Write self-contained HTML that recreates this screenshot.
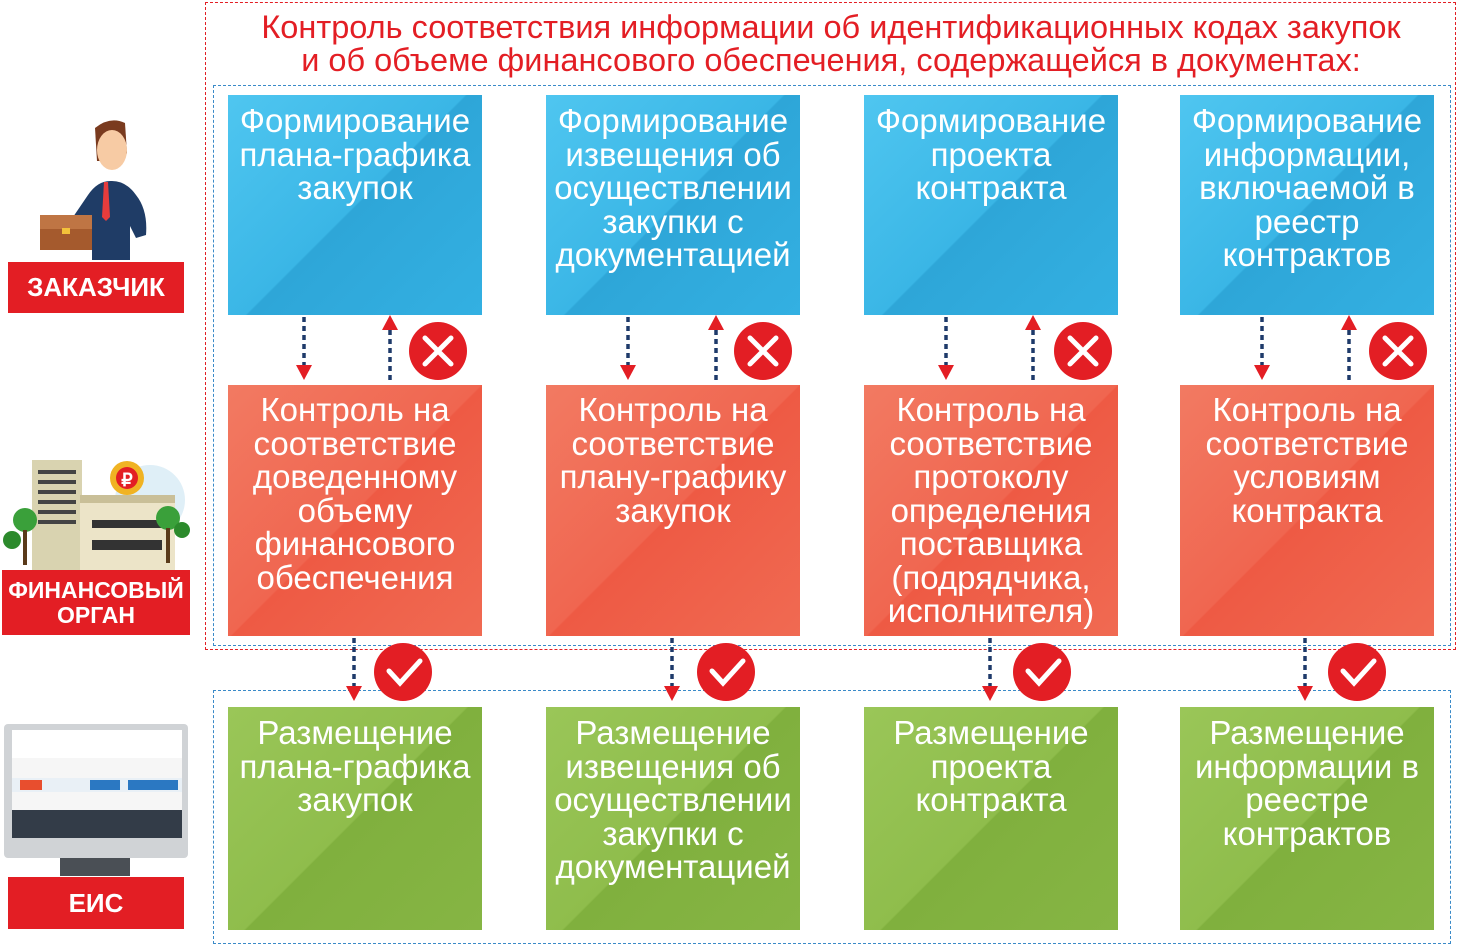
<!DOCTYPE html>
<html><head><meta charset="utf-8"><style>
body{margin:0;width:1458px;height:945px;background:#fff;position:relative;overflow:hidden;font-family:"Liberation Sans",sans-serif}
.a{position:absolute}
.box{position:absolute;width:254px;color:#fff;text-align:center;font-size:33px;line-height:33.5px;box-sizing:border-box;padding-top:9px;letter-spacing:0px;white-space:nowrap}
.b{top:95px;height:220px;background:linear-gradient(135deg,#4fc6f0 0%,#3ab6e6 50%,#2ea6d8 50.5%,#33b0e2 100%)}
.r{top:385px;height:251px;background:linear-gradient(135deg,#f27a62 0%,#f06650 50%,#ee5a44 50.5%,#f06a52 100%)}
.g{top:707px;height:223px;background:linear-gradient(135deg,#9ac658 0%,#8fbd4c 50%,#80b03e 50.5%,#86b544 100%)}
.lab{position:absolute;background:#e31e24;color:#fff;font-weight:bold;text-align:center;font-size:26px}
</style></head><body>
<div class="a" style="left:205px;top:2px;width:1249px;height:646px;border:1.5px dashed #e31e24"></div>
<div class="a" style="left:213px;top:85px;width:1236px;height:559px;border:1.5px dashed #3a8ac8"></div>
<div class="a" style="left:213px;top:690px;width:1236px;height:252px;border:1.5px dashed #3a8ac8"></div>
<div class="a" style="left:205px;top:11px;width:1252px;text-align:center;color:#e31e24;font-size:32.5px;line-height:33px;white-space:nowrap">Контроль соответствия информации об идентификационных кодах закупок<br>и об объеме финансового обеспечения, содержащейся в документах:</div>

<div class="box b" style="left:228px">Формирование<br>плана-графика<br>закупок</div>
<div class="box b" style="left:546px">Формирование<br>извещения об<br>осуществлении<br>закупки с<br>документацией</div>
<div class="box b" style="left:864px">Формирование<br>проекта<br>контракта</div>
<div class="box b" style="left:1180px">Формирование<br>информации,<br>включаемой в<br>реестр<br>контрактов</div>

<div class="box r" style="left:228px;padding-top:8px">Контроль на<br>соответствие<br>доведенному<br>объему<br>финансового<br>обеспечения</div>
<div class="box r" style="left:546px;padding-top:8px">Контроль на<br>соответствие<br>плану-графику<br>закупок</div>
<div class="box r" style="left:864px;padding-top:8px">Контроль на<br>соответствие<br>протоколу<br>определения<br>поставщика<br>(подрядчика,<br>исполнителя)</div>
<div class="box r" style="left:1180px;padding-top:8px">Контроль на<br>соответствие<br>условиям<br>контракта</div>

<div class="box g" style="left:228px">Размещение<br>плана-графика<br>закупок</div>
<div class="box g" style="left:546px">Размещение<br>извещения об<br>осуществлении<br>закупки с<br>документацией</div>
<div class="box g" style="left:864px">Размещение<br>проекта<br>контракта</div>
<div class="box g" style="left:1180px">Размещение<br>информации в<br>реестре<br>контрактов</div>

<svg class="a" style="left:0;top:0" width="1458" height="945">
<g stroke="#1e3a6a" stroke-width="3.5" stroke-dasharray="5,4">
<line x1="304" y1="317" x2="304" y2="366"/><line x1="390" y1="380" x2="390" y2="330"/>
<line x1="628" y1="317" x2="628" y2="366"/><line x1="716" y1="380" x2="716" y2="330"/>
<line x1="946" y1="317" x2="946" y2="366"/><line x1="1033" y1="380" x2="1033" y2="330"/>
<line x1="1262" y1="317" x2="1262" y2="366"/><line x1="1349" y1="380" x2="1349" y2="330"/>
<line x1="354" y1="638" x2="354" y2="688"/><line x1="672" y1="638" x2="672" y2="688"/>
<line x1="990" y1="638" x2="990" y2="688"/><line x1="1305" y1="638" x2="1305" y2="688"/>
</g>
<g fill="#e31e24">
<path d="M296 365h16l-8 15z"/><path d="M382 330h16l-8-15z"/>
<path d="M620 365h16l-8 15z"/><path d="M708 330h16l-8-15z"/>
<path d="M938 365h16l-8 15z"/><path d="M1025 330h16l-8-15z"/>
<path d="M1254 365h16l-8 15z"/><path d="M1341 330h16l-8-15z"/>
<path d="M346 686h16l-8 15z"/><path d="M664 686h16l-8 15z"/>
<path d="M982 686h16l-8 15z"/><path d="M1297 686h16l-8 15z"/>
<circle cx="438" cy="351" r="29"/><circle cx="763" cy="351" r="29"/><circle cx="1083" cy="351" r="29"/><circle cx="1398" cy="351" r="29"/>
<circle cx="403" cy="672" r="29"/><circle cx="726" cy="672" r="29"/><circle cx="1042" cy="672" r="29"/><circle cx="1357" cy="672" r="29"/>
</g>
<g stroke="#fff" stroke-width="5" stroke-linecap="round" fill="none">
<path d="M425 338l26 26M451 338l-26 26"/><path d="M750 338l26 26M776 338l-26 26"/>
<path d="M1070 338l26 26M1096 338l-26 26"/><path d="M1385 338l26 26M1411 338l-26 26"/>
<path d="M389 671l11 12 20-22"/><path d="M712 671l11 12 20-22"/><path d="M1028 671l11 12 20-22"/><path d="M1343 671l11 12 20-22"/>
</g>
<path d="M95 128q15-12 30-5l2 30-5 8h-25z" fill="#7a3b1f"/>
<ellipse cx="112" cy="150" rx="15" ry="20" fill="#f7cba4"/>
<path d="M88 195q10-15 24-14 14 0 24 14 12 15 10 40l-10 3-6-12v34h-38v-40l-15 8-6-8z" fill="#1f3c66"/>
<path d="M104 182l-2 35 4 4 4-4-2-35z" fill="#e63c3c"/>
<rect x="96" y="230" width="12" height="30" fill="#1f3c66"/><rect x="112" y="230" width="12" height="30" fill="#1f3c66"/>
<rect x="40" y="215" width="52" height="35" fill="#a55a2d"/><rect x="40" y="215" width="52" height="14" fill="#bf7544"/>
<rect x="62" y="228" width="8" height="6" fill="#f3c23a"/>
<circle cx="150" cy="500" r="35" fill="#dfeff7"/>
<rect x="32" y="460" width="50" height="110" fill="#d9d3b0"/>
<g fill="#444"><rect x="38" y="470" width="38" height="4"/><rect x="38" y="480" width="38" height="4"/><rect x="38" y="490" width="38" height="4"/><rect x="38" y="500" width="38" height="4"/><rect x="38" y="510" width="38" height="4"/><rect x="38" y="520" width="38" height="4"/></g>
<rect x="80" y="500" width="95" height="70" fill="#ece4c8"/>
<rect x="80" y="495" width="95" height="8" fill="#c9bf98"/>
<g fill="#333"><rect x="92" y="520" width="70" height="8"/><rect x="92" y="540" width="70" height="10"/></g>
<circle cx="127" cy="478" r="17" fill="#f0b323"/><circle cx="127" cy="478" r="11" fill="#e31e24"/>
<text x="127" y="486" fill="#fff" font-size="18" font-weight="bold" text-anchor="middle" font-family="Liberation Sans">₽</text>
<circle cx="25" cy="520" r="12" fill="#3aa03a"/><rect x="23" y="530" width="4" height="35" fill="#5a3a1a"/>
<circle cx="168" cy="518" r="12" fill="#3aa03a"/><rect x="166" y="528" width="4" height="35" fill="#5a3a1a"/>
<circle cx="12" cy="540" r="9" fill="#2c8a2c"/><circle cx="182" cy="530" r="8" fill="#2c8a2c"/>
<rect x="4" y="724" width="184" height="134" rx="4" fill="#d0d3d6"/>
<rect x="12" y="730" width="170" height="108" fill="#f6f6f6"/>
<rect x="12" y="730" width="170" height="28" fill="#fff"/>
<rect x="12" y="778" width="170" height="14" fill="#e9f0f6"/>
<rect x="20" y="780" width="22" height="10" fill="#e84e2e"/><rect x="90" y="780" width="30" height="10" fill="#2b78c2"/><rect x="128" y="780" width="50" height="10" fill="#2b78c2"/>
<rect x="12" y="810" width="170" height="28" fill="#333c48"/>
<rect x="60" y="858" width="70" height="18" fill="#4a4f55"/>
</svg>
<div class="lab" style="left:8px;top:262px;width:176px;height:51px;line-height:51px">ЗАКАЗЧИК</div>
<div class="lab" style="left:2px;top:570px;width:188px;height:65px;line-height:25px;padding-top:8px;box-sizing:border-box;font-size:23px">ФИНАНСОВЫЙ<br>ОРГАН</div>
<div class="lab" style="left:8px;top:877px;width:176px;height:52px;line-height:52px">ЕИС</div>
</body></html>
